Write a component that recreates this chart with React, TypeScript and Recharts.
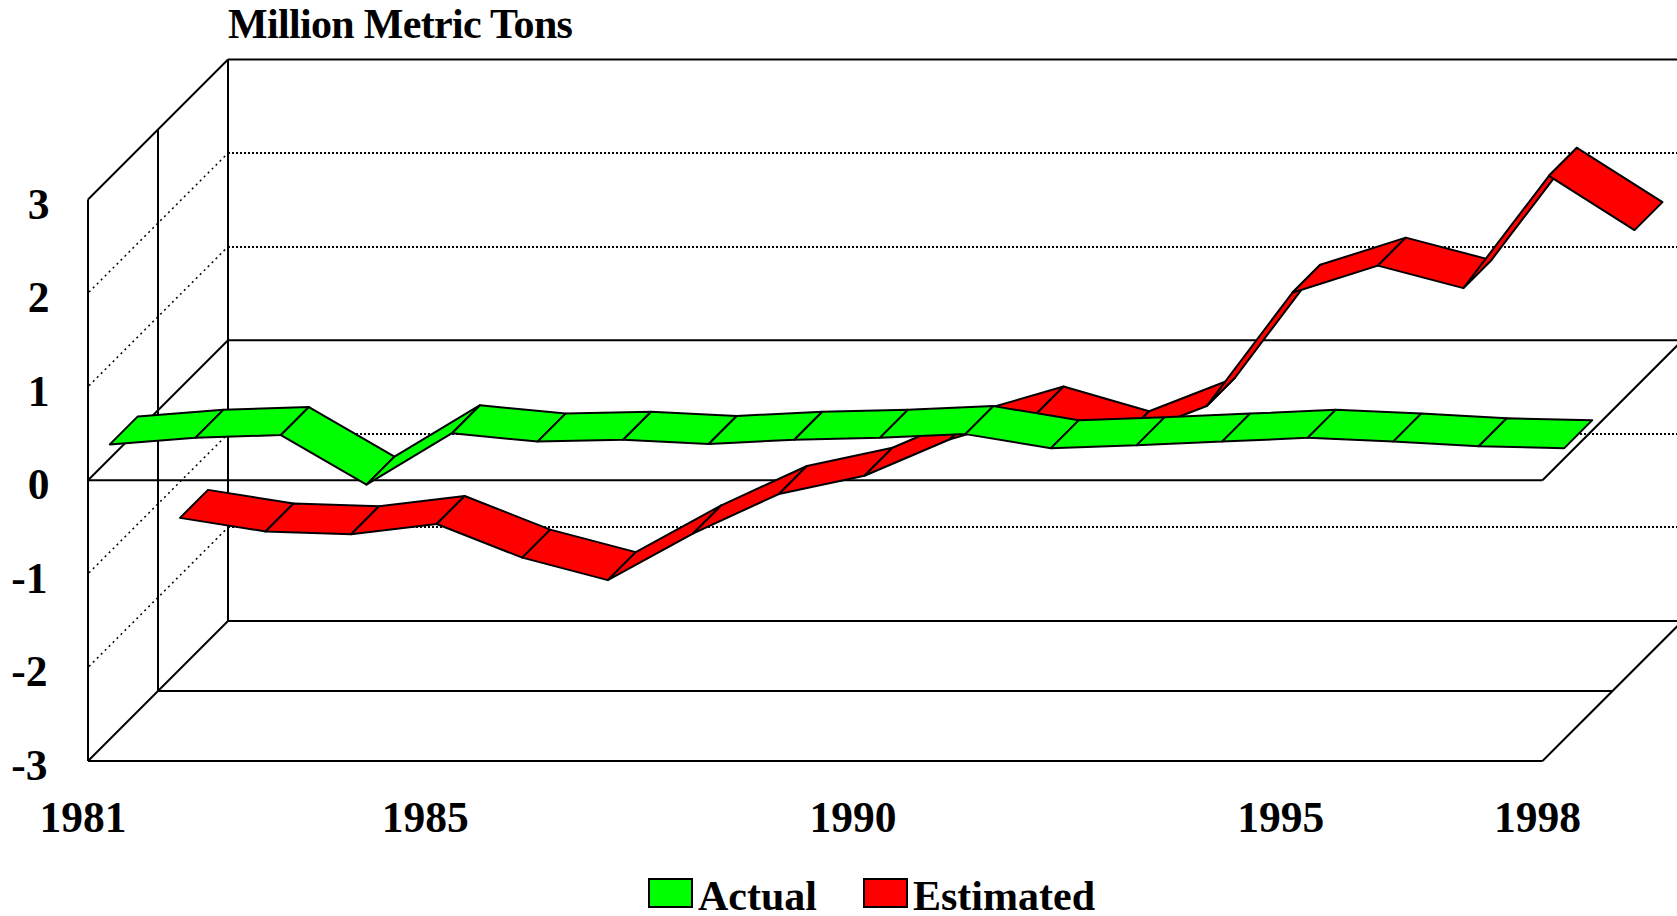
import { ComposedChart, Line, XAxis, YAxis, ReferenceLine, Legend } from 'recharts';

const years = [1981, 1982, 1983, 1984, 1985, 1986, 1987, 1988, 1989, 1990, 1991, 1992, 1993, 1994, 1995, 1996, 1997, 1998];
const actual = [0.15, 0.22, 0.25, -0.28, 0.27, 0.18, 0.2, 0.155, 0.2, 0.22, 0.26, 0.11, 0.14, 0.18, 0.22, 0.18, 0.13, 0.11];
const estimated = [-1.385, -1.53, -1.56, -1.45, -1.81, -2.05, -1.55, -1.13, -0.935, -0.545, -0.28, -0.545, -0.19, 1.02, 1.31, 1.07, 2.27, 1.69];
const yearTicks = [1981, 1985, 1990, 1995, 1998];
const valueTicks = [-3, -2, -1, 0, 1, 2, 3];
const dottedLevels = [-2, -1, 1, 2];

const data = years.map((year, i) => ({ year, actual: actual[i], estimated: estimated[i] }));

// fake 3D: everything is pushed back up and to the right by its depth
const DEPTH = 140;
const RIBBON_WIDTH = 28;
const FONT = '"Liberation Serif", serif';

const textStyle = { fontFamily: FONT, fontWeight: 700, fontSize: 43.5, fill: '#000' };

function ribbonDot(fill: string, depth: number) {
  return (props: any) => {
    const { cx, cy, index, points } = props;
    const next = points?.[index + 1];
    if (!next) return <g key={index} />;
    const fx1 = cx + depth;
    const fy1 = cy - depth;
    const fx2 = next.x + depth;
    const fy2 = next.y - depth;
    const w = RIBBON_WIDTH;
    return (
      <polygon
        key={index}
        points={`${fx1},${fy1} ${fx2},${fy2} ${fx2 + w},${fy2 - w} ${fx1 + w},${fy1 - w}`}
        fill={fill}
        stroke="#000"
        strokeWidth={2}
        strokeLinejoin="round"
      />
    );
  };
}

function seg(x1: number, y1: number, x2: number, y2: number, extra: any = {}) {
  return <line x1={x1} y1={y1} x2={x2} y2={y2} stroke="#000" strokeWidth={2} {...extra} />;
}

// y = 3: left side top edge and back wall top
const TopEdge = ({ x1, y1, x2 }: any) => (
  <g>
    {seg(x1, y1, x1 + DEPTH, y1 - DEPTH)}
    {seg(x1 + DEPTH, y1 - DEPTH, x2 + DEPTH, y1 - DEPTH)}
  </g>
);

// dotted grid on the side wall and back wall
const DottedLevel = ({ x1, y1, x2 }: any) => (
  <g>
    {seg(x1 + 1, y1 - 1, x1 + DEPTH, y1 - DEPTH, { strokeWidth: 1.5, strokeDasharray: '2 3.6' })}
    {seg(x1 + DEPTH, y1 - DEPTH, x2 + DEPTH, y1 - DEPTH, { strokeDasharray: '2 2', shapeRendering: 'crispEdges' })}
  </g>
);

// back part of the zero plane, sits behind the ribbons
const ZeroPlaneBack = ({ x1, y1, x2 }: any) => (
  <g>
    {seg(x1, y1, x1 + DEPTH, y1 - DEPTH)}
    {seg(x1 + DEPTH, y1 - DEPTH, x2 + DEPTH, y1 - DEPTH)}
    {seg(x2, y1, x2 + DEPTH, y1 - DEPTH)}
  </g>
);

const Floor = ({ x1, y1, x2 }: any) => (
  <g>
    {seg(x1, y1, x2, y1)}
    {seg(x1 + DEPTH / 2, y1 - DEPTH / 2, x2 + DEPTH / 2, y1 - DEPTH / 2)}
    {seg(x1 + DEPTH, y1 - DEPTH, x2 + DEPTH, y1 - DEPTH)}
    {seg(x1, y1, x1 + DEPTH, y1 - DEPTH)}
    {seg(x2, y1, x2 + DEPTH, y1 - DEPTH)}
  </g>
);

const Uprights = ({ x1, y1, y2 }: any) => (
  <g>
    {seg(x1, y1, x1, y2)}
    {seg(x1 + DEPTH / 2, y1 - DEPTH / 2, x1 + DEPTH / 2, y2 - DEPTH / 2)}
    {seg(x1 + DEPTH, y1 - DEPTH, x1 + DEPTH, y2 - DEPTH)}
  </g>
);

const FrontZero = ({ x1, y1, x2 }: any) => seg(x1, y1, x2, y1);

const YearTick = ({ x, y, payload }: any) => (
  <text x={x - 5} y={y + 63} textAnchor="middle" {...textStyle}>
    {payload.value}
  </text>
);

const ValueTick = ({ y, payload }: any) => (
  <text x={payload.value < 0 ? 47.5 : 49.5} y={y + 19} textAnchor="end" {...textStyle}>
    {payload.value}
  </text>
);

const renderLegend = ({ payload }: any) => (
  <div style={{ display: 'flex', height: 40, fontFamily: FONT, fontWeight: 700, fontSize: 42, lineHeight: '40px', color: '#000' }}>
    {[...(payload ?? [])]
      .sort((a: any, b: any) => String(a.value).localeCompare(String(b.value)))
      .map((entry: any) => (
        <div key={entry.value} style={{ display: 'flex', marginRight: 46 }}>
          <div
            style={{
              width: 45,
              height: 30,
              marginTop: 2,
              marginRight: 5,
              boxSizing: 'border-box',
              border: '2px solid #000',
              background: entry.color,
            }}
          />
          <span style={{ display: 'block', whiteSpace: 'nowrap' }}>{entry.value}</span>
        </div>
      ))}
  </div>
);

export default function App() {
  return (
    <div style={{ position: 'absolute', left: 0, top: 0, width: 1677, height: 916, overflow: 'hidden', background: '#fff' }}>
      <ComposedChart
        width={1677}
        height={916}
        data={data}
        margin={{ top: 199.5, right: 134.5, bottom: 0, left: 0 }}
      >
        <text x={228} y={38} style={{ ...textStyle, fontSize: 42, letterSpacing: -0.67 }}>
          Million Metric Tons
        </text>
        <XAxis
          dataKey="year"
          type="number"
          domain={[1981, 1998]}
          ticks={yearTicks}
          interval={0}
          height={115}
          axisLine={false}
          tickLine={false}
          tick={<YearTick />}
        />
        <YAxis
          type="number"
          domain={[-3, 3]}
          ticks={valueTicks}
          interval={0}
          width={88}
          axisLine={false}
          tickLine={false}
          tick={<ValueTick />}
        />
        <ReferenceLine x={1981} ifOverflow="visible" shape={<Uprights />} />
        <ReferenceLine y={3} ifOverflow="visible" shape={<TopEdge />} />
        {dottedLevels.map((v) => (
          <ReferenceLine key={v} y={v} ifOverflow="visible" shape={<DottedLevel />} />
        ))}
        <ReferenceLine y={0} ifOverflow="visible" shape={<ZeroPlaneBack />} />
        <ReferenceLine y={-3} ifOverflow="visible" shape={<Floor />} />
        <Line
          dataKey="estimated"
          name="Estimated"
          stroke="#ff0000"
          strokeOpacity={0}
          dot={ribbonDot('#ff0000', 92)}
          activeDot={false}
          isAnimationActive={false}
        />
        <Line
          dataKey="actual"
          name="Actual"
          stroke="#00ff00"
          strokeOpacity={0}
          dot={ribbonDot('#00ff00', 21.8)}
          activeDot={false}
          isAnimationActive={false}
        />
        <ReferenceLine y={0} ifOverflow="visible" shape={<FrontZero />} />
        <Legend
          verticalAlign="bottom"
          content={renderLegend}
          wrapperStyle={{ left: 648, bottom: 0, width: 480, height: 40 }}
        />
      </ComposedChart>
    </div>
  );
}
